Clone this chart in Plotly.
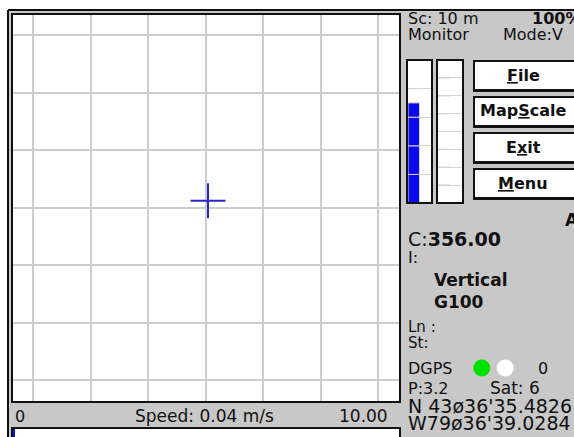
import plotly.graph_objects as go

W, H = 574, 437

# ---------------- data ----------------
scale_label = "10 m"
zoom_label = "100%"
view_label = "Monitor"
mode_label = "Mode:V"
course = 356.00
info_lines = ["Vertical", "G100"]
dgps_age = 0
pdop = 3.2
sat_count = 6
lat_text = "N 43\u00f836'35.4826"
lon_text = "W79\u00f836'39.0284"
speed = 0.04
speed_min = 0
speed_max = 10.00
pos_east = [0.4]      # metres from map centre
pos_north = [1.2]
grid_spacing = 10     # metres
signal_levels = [70, 0]       # percent
signal_segments = [5, 8]
dgps_lights = ["#00e000", "#ffffff"]
button_labels = ["<u>F</u>ile", "Map<u>S</u>cale", "E<u>x</u>it", "<u>M</u>enu"]

# ---------------- helpers ----------------
def px(x):
    return x / W


def py(y):
    return 1 - y / H


GRAY = "#c8c8c8"
FONT = "DejaVu Sans"
BLUE = "#0a0af0"

fig = go.Figure()

# map crosshair
fig.add_trace(go.Scatter(
    x=pos_east, y=pos_north, mode="markers", xaxis="x", yaxis="y",
    marker=dict(symbol="cross-thin", size=25, line=dict(color="#2626d6", width=2)),
    hoverinfo="skip", showlegend=False))

# signal boxes
box_x = [(407, 432), (437, 463)]
for i, (lvl, nseg) in enumerate(zip(signal_levels, signal_segments)):
    step = 100 / nseg
    for s in range(nseg):
        seg = max(0, min(step, lvl - step * s))
        fig.add_trace(go.Bar(
            x=[0.27], y=[seg], base=[step * s], width=[0.46],
            xaxis=f"x{i + 2}", yaxis=f"y{i + 2}",
            marker=dict(color=BLUE, line=dict(color="#d4d4d4", width=1)),
            hoverinfo="skip", showlegend=False))

# speed progress bar
fig.add_trace(go.Bar(
    x=[speed], y=[0], orientation="h", width=[1], base=[speed_min],
    xaxis="x4", yaxis="y4", marker=dict(color=BLUE, line=dict(width=0)),
    hoverinfo="skip", showlegend=False))

# DGPS lights
fig.add_trace(go.Scatter(
    x=list(range(len(dgps_lights))), y=[0] * len(dgps_lights), mode="markers",
    xaxis="x5", yaxis="y5",
    marker=dict(size=17, color=dgps_lights, line=dict(width=0)),
    hoverinfo="skip", showlegend=False))

hidden = dict(visible=False, fixedrange=True)

layout = dict(
    width=W, height=H, margin=dict(l=0, r=0, t=0, b=0),
    paper_bgcolor="white", plot_bgcolor="rgba(0,0,0,0)",
    showlegend=False, barmode="overlay",
    xaxis=dict(domain=[px(12), px(400)], range=[-33.7, 33.8], dtick=grid_spacing, tick0=0,
               showgrid=True, gridcolor="#cdcdcd", gridwidth=2, zeroline=False,
               showticklabels=False, ticks="", showline=False, fixedrange=True),
    yaxis=dict(domain=[py(402), py(14)], range=[-33.8, 33.7], dtick=grid_spacing, tick0=0,
               showgrid=True, gridcolor="#cdcdcd", gridwidth=2, zeroline=False,
               showticklabels=False, ticks="", showline=False, fixedrange=True),
)
for i, (x0, x1) in enumerate(box_x):
    n = i + 2
    layout[f"xaxis{n}"] = dict(domain=[px(x0), px(x1)], range=[0, 1], anchor=f"y{n}",
                               showgrid=False, zeroline=False, showticklabels=False,
                               ticks="", fixedrange=True)
    layout[f"yaxis{n}"] = dict(domain=[py(203), py(60)], range=[0, 100], anchor=f"x{n}",
                               dtick=100 / signal_segments[i], showgrid=True,
                               gridcolor="#d4d4d4", gridwidth=1, zeroline=False,
                               showticklabels=False, ticks="", fixedrange=True)
layout["xaxis4"] = dict(domain=[px(13), px(399)], range=[speed_min, speed_max], anchor="y4", **hidden)
layout["yaxis4"] = dict(domain=[0, py(429)], range=[-0.5, 0.5], anchor="x4", **hidden)
layout["xaxis5"] = dict(domain=[px(470), px(517)], range=[-0.5, 1.5], anchor="y5", **hidden)
layout["yaxis5"] = dict(domain=[py(378), py(358)], range=[-1, 1], anchor="x5", **hidden)
fig.update_layout(**layout)

shapes = []


def rect(x0, y0, x1, y1, fill=None, line_color=None, lw=0, layer="below"):
    shapes.append(dict(
        type="rect", xref="paper", yref="paper", layer=layer,
        x0=px(x0), x1=px(x1), y0=py(y1), y1=py(y0),
        fillcolor=fill if fill else "rgba(0,0,0,0)",
        line=dict(color=line_color if line_color else "rgba(0,0,0,0)", width=lw)))


# background panel
rect(8, 10, 580, 445, fill=GRAY)
# map area
rect(12, 14, 400, 402, fill="white")
# signal boxes
for x0, x1 in box_x:
    rect(x0, 60, x1, 203, fill="white")
# progress bar
rect(12, 428, 400, 445, fill="white")
# buttons
btn_top, btn_pitch, btn_h = 60, 36, 32
for k in range(len(button_labels)):
    y0 = btn_top + k * btn_pitch
    rect(473, y0, 580, y0 + btn_h, fill="#111111")
    rect(475, y0 + 2, 580, y0 + btn_h - 3, fill="white")

# borders above
rect(12, 14, 400, 402, line_color="#111111", lw=2, layer="above")
for x0, x1 in box_x:
    rect(x0, 60, x1, 203, line_color="#111111", lw=2, layer="above")
rect(12, 428, 400, 445, line_color="#111111", lw=2, layer="above")
shapes.append(dict(type="line", xref="paper", yref="paper", layer="above",
                   x0=px(8), x1=px(580), y0=py(10), y1=py(10),
                   line=dict(color="#111111", width=2)))
shapes.append(dict(type="line", xref="paper", yref="paper", layer="above",
                   x0=px(8), x1=px(8), y0=py(10), y1=py(445),
                   line=dict(color="#111111", width=2)))

annotations = []


def txt(x, y, text, size=16, anchor="left", bold=False):
    annotations.append(dict(
        xref="paper", yref="paper", x=px(x), y=py(y), text=f"<b>{text}</b>" if bold else text,
        showarrow=False, xanchor=anchor, yanchor="middle",
        font=dict(family=FONT, size=size, color="#111111")))


txt(406, 19, f"Sc: {scale_label}")
txt(530, 19, zoom_label, bold=True)
txt(406, 35, view_label)
txt(501, 35, mode_label)
for k, lab in enumerate(button_labels):
    y0 = btn_top + k * btn_pitch
    txt(523, y0 + btn_h / 2 - 1, lab, size=16, anchor="center", bold=True)
txt(563, 220, "A", size=17, bold=True)
txt(406, 239, f"C:<b>{course:.2f}</b>", size=19)
txt(406, 257, "I:")
txt(432, 280, info_lines[0], size=17, bold=True)
txt(432, 302, info_lines[1], size=17, bold=True)
txt(406, 327, "Ln :", size=15)
txt(406, 343, "St:", size=15)
txt(406, 368, "DGPS")
txt(550, 368, f"{dgps_age}", anchor="right")
txt(406, 388, f"P:{pdop}")
txt(488, 388, f"Sat: {sat_count}", size=17)
txt(406, 406, lat_text, size=19)
txt(406, 423, lon_text, size=19)

# speed row
txt(13, 416, f"{speed_min}")
txt(204, 416, f"Speed: {speed} m/s", size=17, anchor="center")
txt(390, 416, f"{speed_max:.2f}", size=17, anchor="right")

fig.update_layout(shapes=shapes, annotations=annotations)
fig.write_html(
    "out.html",
    config={"displayModeBar": False},
    post_script="document.body.style.margin='0';document.body.style.overflow='hidden';",
)
